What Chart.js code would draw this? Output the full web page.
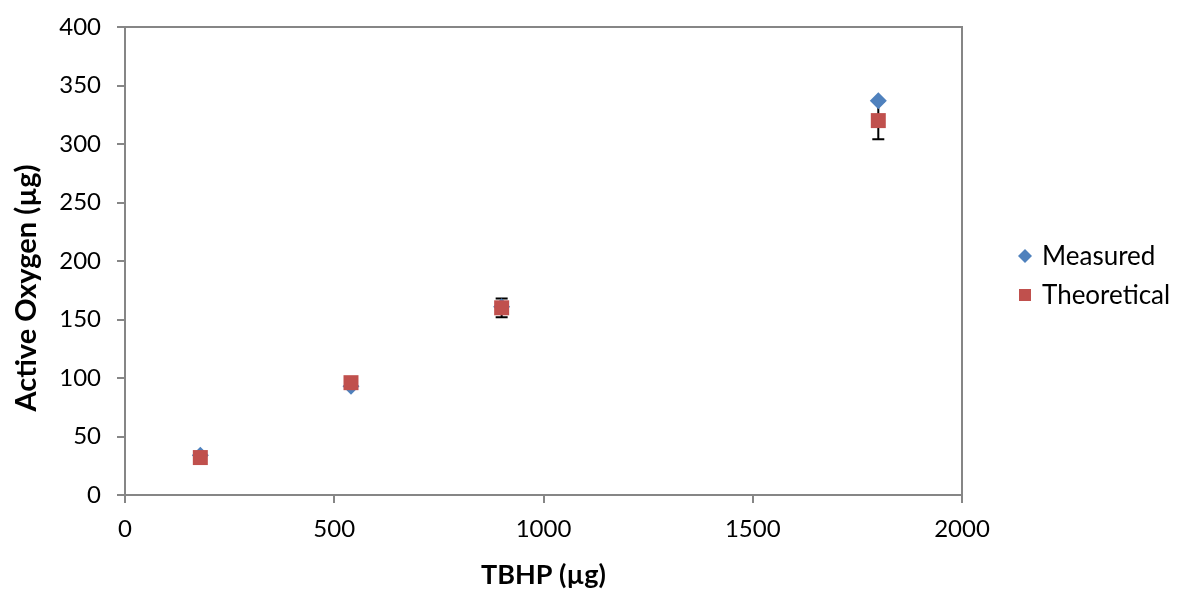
<!DOCTYPE html>
<html>
<head>
<meta charset="utf-8">
<script src="https://cdn.jsdelivr.net/npm/chart.js@4/dist/chart.umd.min.js"></script>
<style>
  html, body { margin: 0; padding: 0; background: #fff; }
  #wrap { width: 1177px; height: 589px; }
</style>
</head>
<body>
<div id="wrap"><canvas id="chart"></canvas></div>
<script>
// values
const tbhp = [180, 540, 900, 1800];
const measured = [34, 93, 161, 337];
const theoretical = [32, 96, 160, 320];
const theoreticalErr = [1.6, 4.8, 8, 16];
const xTicks = [0, 500, 1000, 1500, 2000];
const yTicks = [0, 50, 100, 150, 200, 250, 300, 350, 400];
const yTitle = 'Active Oxygen (µg)';

const axisGray = '#868686';
const font = 'Lato, "Open Sans", sans-serif';

// error bars are drawn before the points so the markers cover them
const errorBars = {
  id: 'errorBars',
  beforeDatasetsDraw(chart) {
    const ctx = chart.ctx;
    const xs = chart.scales.x, ys = chart.scales.y;
    ctx.save();
    ctx.strokeStyle = '#000';
    ctx.lineWidth = 2;
    tbhp.forEach((t, i) => {
      const px = xs.getPixelForValue(t);
      const top = ys.getPixelForValue(theoretical[i] + theoreticalErr[i]);
      const bot = ys.getPixelForValue(theoretical[i] - theoreticalErr[i]);
      ctx.beginPath();
      ctx.moveTo(px, top); ctx.lineTo(px, bot);
      ctx.moveTo(px - 6, top); ctx.lineTo(px + 6, top);
      ctx.moveTo(px - 6, bot); ctx.lineTo(px + 6, bot);
      ctx.stroke();
    });
    ctx.restore();
  }
};

// box round the plot, the y title and the legend on the right
const extras = {
  id: 'extras',
  afterDraw(chart) {
    const a = chart.chartArea, ctx = chart.ctx;
    ctx.save();
    ctx.strokeStyle = axisGray;
    ctx.lineWidth = 2;
    ctx.beginPath();
    ctx.moveTo(a.left, a.top); ctx.lineTo(a.right, a.top); ctx.lineTo(a.right, a.bottom);
    ctx.stroke();

    ctx.fillStyle = '#000';
    ctx.font = 'bold 29px ' + font;
    ctx.textAlign = 'center';
    ctx.textBaseline = 'middle';
    ctx.translate(27, 288);
    ctx.rotate(-Math.PI / 2);
    ctx.fillText(yTitle, 0, 0);
    ctx.restore();

    ctx.save();
    ctx.font = '26px ' + font;
    ctx.textBaseline = 'middle';
    chart.data.datasets.forEach((ds, i) => {
      const y = 256 + i * 39;
      const x = a.right + 63;
      ctx.fillStyle = ds.backgroundColor;
      ctx.beginPath();
      if (ds.pointStyle === 'rectRot') {
        ctx.moveTo(x, y - 7); ctx.lineTo(x + 7, y); ctx.lineTo(x, y + 7); ctx.lineTo(x - 7, y);
        ctx.closePath();
      } else {
        ctx.rect(x - 6, y - 6, 12, 12);
      }
      ctx.fill();
      ctx.fillStyle = '#000';
      ctx.fillText(ds.label, x + 17, y + 1);
    });
    ctx.restore();
  }
};

new Chart(document.getElementById('chart'), {
  type: 'scatter',
  data: {
    datasets: [{
      label: 'Measured',
      data: tbhp.map((t, i) => ({ x: t, y: measured[i] })),
      pointStyle: 'rectRot',
      pointRadius: 8.5,
      backgroundColor: '#4F81BD',
      borderColor: '#4F81BD',
      borderWidth: 0,
      order: 1
    }, {
      label: 'Theoretical',
      data: tbhp.map((t, i) => ({ x: t, y: theoretical[i] })),
      pointStyle: 'rect',
      pointRadius: 10.6,
      backgroundColor: '#C0504D',
      borderColor: '#C0504D',
      borderWidth: 0,
      order: 0
    }]
  },
  options: {
    responsive: true,
    maintainAspectRatio: false,
    animation: false,
    layout: { padding: { top: 27, right: 215, left: 0, bottom: 0 } },
    plugins: {
      tooltip: { enabled: false },
      legend: { display: false }
    },
    scales: {
      x: {
        type: 'linear',
        min: 0, max: 2000,
        afterBuildTicks: s => { s.ticks = xTicks.map(v => ({ value: v })); },
        afterFit: s => { s.height = 94; },
        grid: { drawOnChartArea: false, tickLength: 8, color: axisGray, lineWidth: 2 },
        border: { color: axisGray, width: 2 },
        ticks: { color: '#000', padding: 12, font: { family: font, size: 24 }, callback: v => String(v) },
        title: { display: true, text: 'TBHP (µg)', color: '#000', padding: { top: 0, bottom: 0 },
                 font: { family: font, size: 27, weight: 'bold', lineHeight: 1 } }
      },
      y: {
        type: 'linear',
        min: 0, max: 400,
        afterBuildTicks: s => { s.ticks = yTicks.map(v => ({ value: v })); },
        afterFit: s => { s.width = 125; },
        grid: { drawOnChartArea: false, tickLength: 8, color: axisGray, lineWidth: 2 },
        border: { color: axisGray, width: 2 },
        ticks: { color: '#000', padding: 16, font: { family: font, size: 24, lineHeight: 0.9 }, callback: v => String(v) }
      }
    }
  },
  plugins: [errorBars, extras]
});
</script>
</body>
</html>
